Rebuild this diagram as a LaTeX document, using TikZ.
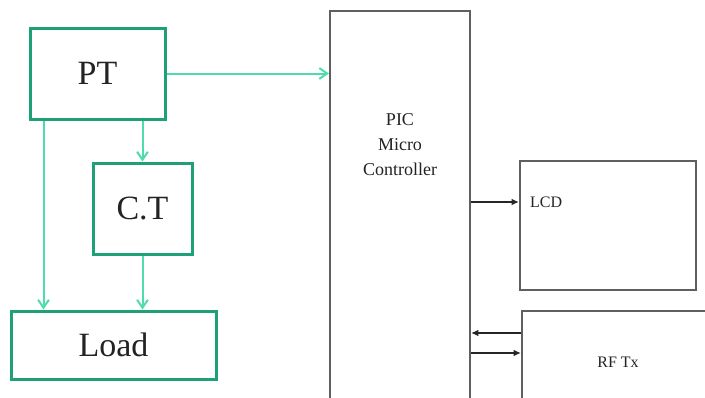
\documentclass[tikz,border=0pt]{standalone}
\usepackage{fontspec}
\setmainfont{Liberation Serif}
\usepackage{xcolor}
\usetikzlibrary{positioning,arrows.meta,calc}
\definecolor{cbox}{RGB}{30,160,120}
\definecolor{cwire}{RGB}{80,220,170}
\definecolor{cgray}{RGB}{95,95,95}
\definecolor{ctext}{RGB}{35,35,35}

\begin{document}
\begin{tikzpicture}[
  x=1pt,y=-1pt,
  text=ctext,
  gblk/.style={draw=cbox,line width=3pt,fill=white,inner sep=0pt,font=\fontsize{34}{40}\selectfont},
  kblk/.style={draw=cgray,line width=2pt,fill=white,inner sep=0pt},
  gwire/.style={-{Straight Barb[length=2.8mm,width=3.8mm]},cwire,line width=2pt},
  kwire/.style={-{Latex[length=2.6mm,width=2.4mm]},black!85,line width=1.8pt},
]
\useasboundingbox (0,0) rectangle (705,397);
\clip (0,0) rectangle (705,397);

% sensing side
\node[gblk,minimum width=135pt,minimum height=91pt] (pt) at (97.5,73.5) {PT};
\node[gblk,minimum width=99pt,minimum height=91pt] (ct) at (142.5,208.5) {C.T};
\node[gblk,minimum width=205pt,minimum height=68pt] (load) at (113.5,345) {Load};

% controller and outputs
\node[kblk,minimum width=140pt,minimum height=392pt] (pic) at (400,207) {};
\node[align=center,font=\fontsize{18}{25}\selectfont] (pictxt) at (400,145) {PIC\\Micro\\Controller};
\node[kblk,minimum width=176pt,minimum height=129pt] (lcd) at (608,225.5) {};
\node[anchor=west,font=\fontsize{16}{19}\selectfont,inner sep=0pt] (lcdtxt) at (530,202) {LCD};
\node[kblk,minimum width=192pt,minimum height=103pt,font=\fontsize{16}{19}\selectfont] (rf) at (618,362.5) {RF Tx};

% green wiring
\draw[gwire] (pt.east) -- (pt.east -| pic.west);
\draw[gwire] (ct.north |- pt.south) -- (ct.north);
\draw[gwire] ([xshift=15pt]pt.south west) -- ([xshift=15pt]pt.south west |- load.north);
\draw[gwire] (ct.south) -- (ct.south |- load.north);

% controller links
\draw[kwire] (pic.east |- lcdtxt.west) -- (lcd.west |- lcdtxt.west);
\draw[kwire] ([yshift=29.5pt]rf.west) -- ([yshift=29.5pt]rf.west -| pic.east);
\draw[kwire] ([yshift=9.5pt]rf.west -| pic.east) -- ([yshift=9.5pt]rf.west);
\end{tikzpicture}
\end{document}
